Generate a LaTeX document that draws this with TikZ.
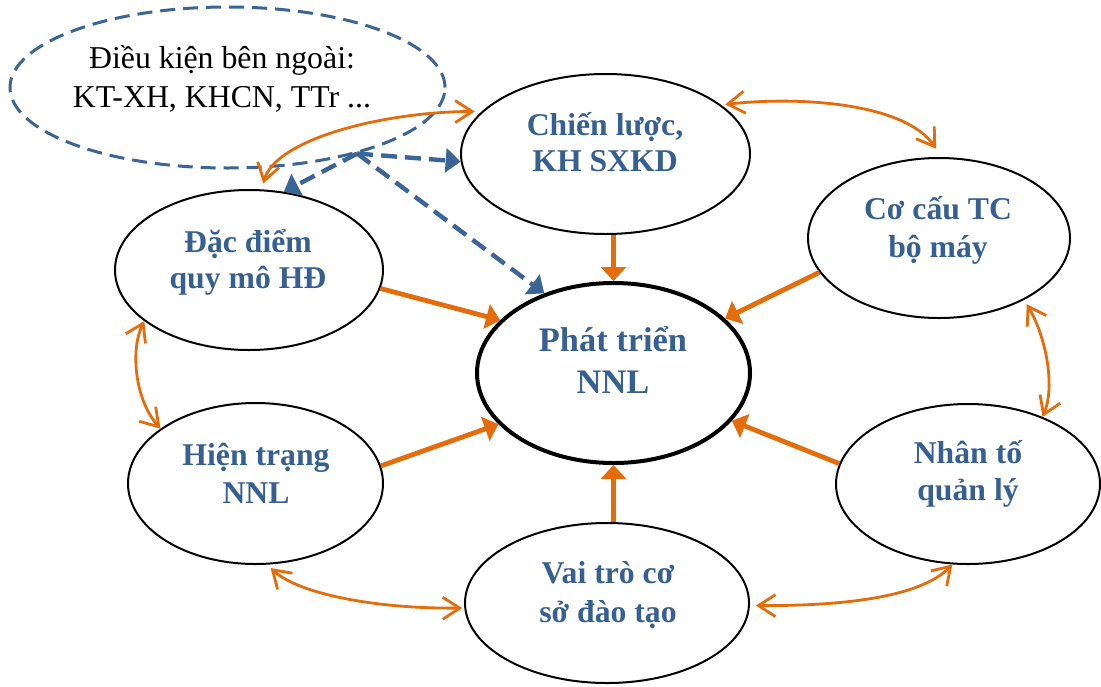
\documentclass[tikz,border=0pt]{standalone}
\usepackage{fontspec}
\setmainfont{Liberation Serif}
\usetikzlibrary{arrows.meta,shapes.geometric}
\definecolor{lblue}{HTML}{366092}
\definecolor{dblue}{HTML}{3A6596}
\definecolor{orng}{HTML}{E46C0A}
\begin{document}
\begin{tikzpicture}[x=0.5pt,y=-0.5pt,
  % ellipse given by its half axes (in drawing units)
  oval/.style 2 args={ellipse, draw=black, line width=1pt, inner sep=0pt,
    minimum width=#1*1pt, minimum height=#2*1pt},
  core/.style={line width=2pt},
  outer/.style={draw=dblue, line width=1.5pt, dash pattern=on 7.5pt off 4pt},
  lbl/.style={font=\bfseries\fontsize{15.85}{18}\selectfont, text=lblue, inner sep=0pt, anchor=base},
  biglbl/.style={font=\bfseries\fontsize{17.2}{20}\selectfont, text=lblue, inner sep=0pt, anchor=base},
  extlbl/.style={font=\fontsize{15.9}{18}\selectfont, text=black, inner sep=0pt, anchor=base},
  feed/.style={draw=orng, line width=2.4pt, -{Triangle[length=7pt,width=12.5pt]}},
  link/.style={draw=orng, line width=1.4pt,
    {Straight Barb[length=8.5pt,width=11pt]}-{Straight Barb[length=8.5pt,width=11pt]}},
  env/.style={draw=dblue, line width=2.2pt, dash pattern=on 8pt off 4pt,
    -{Triangle[length=7.5pt,width=12pt]}}
]
\useasboundingbox[fill=white] (0,0) rectangle (1101,686);

% ---- ellipses ----
\node[oval={217.5}{80.5}, outer] (DE) at (227.5,87.5) {};
\node[oval={144.5}{80}] (C)  at (605.5,154) {};
\node[oval={131}{80}]   (CC) at (939,238) {};
\node[oval={134}{80}]   (DD) at (249,270) {};
\node[oval={136.5}{90}, core] (PT) at (613.5,373) {};
\node[oval={127.5}{80.5}] (HT) at (255.5,483.5) {};
\node[oval={132}{80}]   (NT) at (968,484) {};
\node[oval={142}{80}]   (VT) at (607,603) {};

% ---- texts ----
\node[extlbl] (de1) at (222,68)  {Điều kiện bên ngoài:};
\node[extlbl] (de2) at (222,107) {KT-XH, KHCN, TTr ...};
\node[lbl] (c1)  at (605,135) {Chiến lược,};
\node[lbl] (c2)  at (605,171) {KH SXKD};
\node[lbl] (cc1) at (938,219) {Cơ cấu TC};
\node[lbl] (cc2) at (938,257) {bộ máy};
\node[lbl] (dd1) at (248,252) {Đặc điểm};
\node[lbl] (dd2) at (248,288) {quy mô HĐ};
\node[biglbl] (pt1) at (613,351) {Phát triển};
\node[biglbl] (pt2) at (613,393) {NNL};
\node[lbl] (ht1) at (256,465) {Hiện trạng};
\node[lbl] (ht2) at (256,503) {NNL};
\node[lbl] (nt1) at (968,463) {Nhân tố};
\node[lbl] (nt2) at (968,500) {quản lý};
\node[lbl] (vt1) at (608,583) {Vai trò cơ};
\node[lbl] (vt2) at (608,622) {sở đào tạo};

% ---- factors acting on the centre ----
\draw[feed] (C.south -| PT.north) -- (PT.north);
\draw[feed] (DD.-8) -- (PT.155);
\draw[feed] (CC.-164) -- (PT.26);
\draw[feed] (HT.8) -- (PT.-156);
\draw[feed] (NT.171) -- (PT.-22.5);
\draw[feed] (VT.north -| PT.south) -- (PT.south);

% ---- external conditions ----
\draw[env] (DE.-27) -- (C.183);
\draw[env] (DE.-27) -- (DD.66);
\draw[env] (DE.-27) -- (PT.131);

% ---- mutual links around the ring ----
\draw[link, shorten <=2pt, shorten >=5pt] (C.23) .. controls (800,96) and (905,103) .. (CC.88);
\draw[link, shorten <=2.5pt] (CC.-36) .. controls (1045,335) and (1056,385) .. (NT.42);
\draw[link, shorten >=3pt] (NT.-101) .. controls (920,598) and (840,606) .. (VT.-1);
\draw[link, shorten <=1pt, shorten >=2.5pt] (VT.182) .. controls (380,609) and (300,595) .. (HT.-82);
\draw[link] (HT.150) .. controls (135,400) and (130,350) .. (DD.-154);
\draw[link, shorten <=3pt, shorten >=3.5pt] (DD.81) .. controls (275,140) and (380,112) .. (C.161);
\end{tikzpicture}
\end{document}
